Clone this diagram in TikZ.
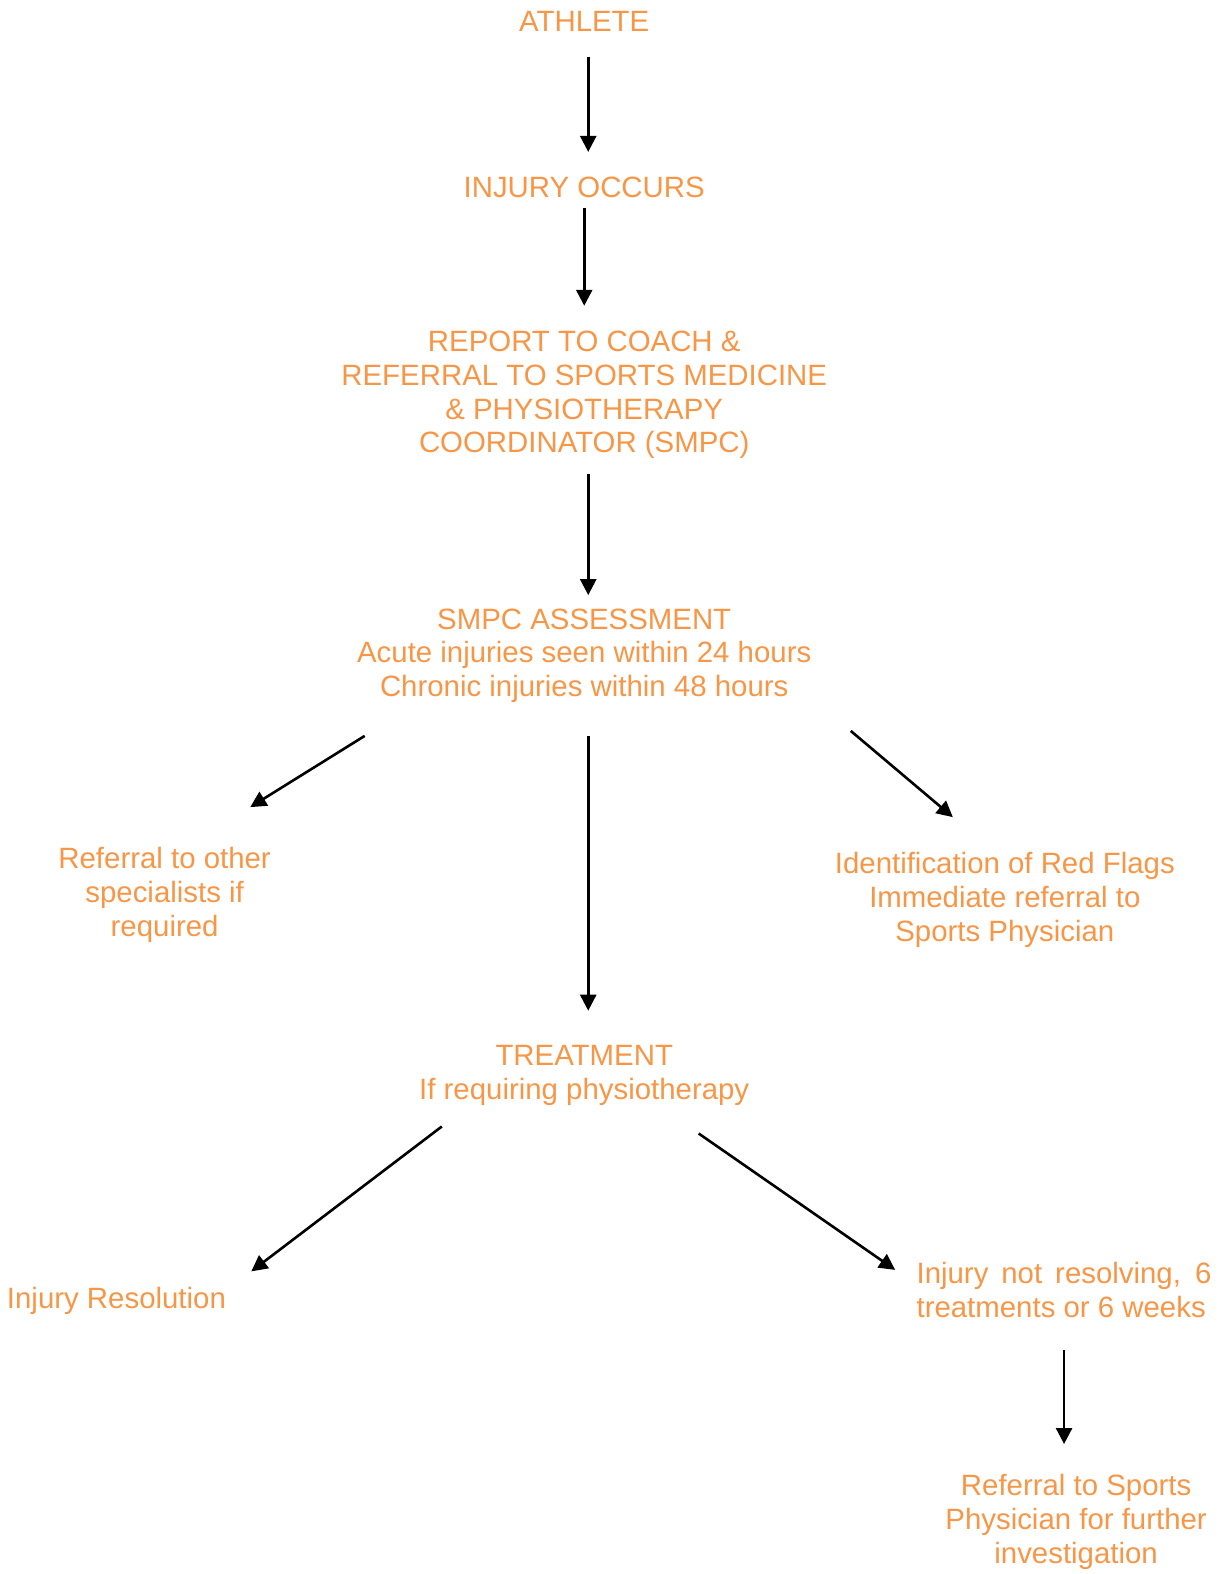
\documentclass[tikz,border=0pt]{standalone}
\usepackage{fontspec}
\setmainfont{Liberation Sans}
\usetikzlibrary{arrows.meta}
\definecolor{flowor}{RGB}{247,150,70}

\begin{document}
\begin{tikzpicture}[x=0.502pt, y=-0.502pt, >={Triangle[length=8pt,width=8pt]},
  lbl/.style={inner sep=0pt, align=center, text=flowor,
    font=\fontsize{14.7pt}{16.85pt}\selectfont},
  arr/.style={->, line width=1.3pt}]
  \useasboundingbox (0,0) rectangle (1219,1568);
  % main column
  \node[lbl] (athlete) at (582,21)  {ATHLETE};
  \node[lbl] (injury)  at (582,187) {INJURY OCCURS};
  \node[lbl] (report)  at (582,393.5) {REPORT TO COACH \&\\REFERRAL TO SPORTS MEDICINE\\\& PHYSIOTHERAPY\\COORDINATOR (SMPC)};
  \node[lbl] (smpc)    at (582,653) {SMPC ASSESSMENT\\Acute injuries seen within 24 hours\\Chronic injuries within 48 hours};
  \node[lbl] (treat)   at (582,1071) {TREATMENT\\If requiring physiotherapy};
  % side branches
  \node[lbl] (other)   at (164,891.5) {Referral to other\\specialists if\\required};
  \node[lbl] (redflag) at (1001,896.5) {Identification of Red Flags\\Immediate referral to\\Sports Physician};
  \node[lbl] (resol)   at (116,1295.5) {Injury Resolution};
  \node[lbl, text width=147.5pt, align=justify] (notres) at (1060,1285)
    {Injury not resolving, 6 treatments or 6 weeks};
  \node[lbl] (sportsref) at (1072,1516) {Referral to Sports\\Physician for further\\investigation};
  % arrows
  \draw[arr, shorten <=12.5pt, shorten >=12.5pt] ([xshift=2pt]athlete.south) -- ([xshift=2pt]injury.north);
  \draw[arr, shorten <=4.5pt, shorten >=12.5pt] (injury) -- (report);
  \draw[arr, shorten <=7.5pt, shorten >=6.5pt] ([xshift=2pt]report.south) -- ([xshift=2pt]smpc.north);
  \draw[arr] ([shift={(4pt,-16.5pt)}]smpc.south west) -- ([shift={(-10.5pt,20pt)}]other.north east);
  \draw[arr, shorten <=16.5pt, shorten >=17pt] ([xshift=2pt]smpc.south) -- ([xshift=2pt]treat.north);
  \draw[arr] ([shift={(19.5pt,-14pt)}]smpc.south east) -- ([shift={(-26pt,17.5pt)}]redflag.north);
  \draw[arr] ([shift={(11.5pt,-10.5pt)}]treat.south west) -- ([shift={(12.5pt,7.5pt)}]resol.north east);
  \draw[arr] ([shift={(-25.5pt,-14pt)}]treat.south east) -- ([shift={(-10.5pt,-4pt)}]notres.north west);
  \draw[arr, shorten <=16pt, shorten >=15pt] (notres.south) -- (notres.south |- sportsref.north);
\end{tikzpicture}
\end{document}
